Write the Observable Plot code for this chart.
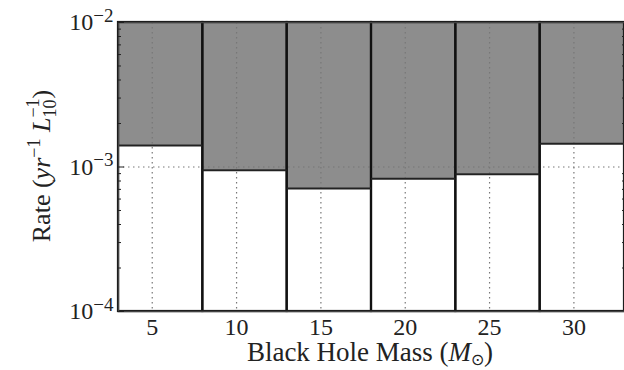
<!DOCTYPE html>
<html><head><meta charset="utf-8">
<script src="https://cdn.jsdelivr.net/npm/d3@7"></script>
<script src="https://cdn.jsdelivr.net/npm/@observablehq/plot@0.6"></script>
<style>body{margin:0;background:#fff;}</style>
</head><body><div id="chart"></div>
<script>
// Bins of black hole mass (M_sun) and rate upper limits
const binStart = [3, 8, 13, 18, 23, 28];
const binEnd = [8, 13, 18, 23, 28, 33];
const rates = [1.41e-3, 9.5e-4, 7.1e-4, 8.3e-4, 8.9e-4, 1.45e-3];
const xTicks = [5, 10, 15, 20, 25, 30];
const yMajor = [1e-4, 1e-3, 1e-2];
const yMinor = [2e-4, 3e-4, 4e-4, 5e-4, 6e-4, 7e-4, 8e-4, 9e-4, 2e-3, 3e-3, 4e-3, 5e-3, 6e-3, 7e-3, 8e-3, 9e-3];
const yBottom = 1e-4, yTop = 1e-2;

const bins = binStart.map((s, i) => ({x1: s, x2: binEnd[i], rate: rates[i]}));

const FONT = "'Liberation Serif', 'Times New Roman', serif";
const grid = {stroke: "#777", strokeOpacity: 1, strokeWidth: 1.2, strokeDasharray: "1.5,3.5"};

const chart = Plot.plot({
  width: 624, height: 370,
  marginLeft: 118, marginRight: 0, marginTop: 22, marginBottom: 59,
  style: {fontFamily: FONT, fontSize: "24px", background: "white", color: "#222"},
  x: {domain: [3, 33]},
  y: {type: "log", domain: [yBottom, yTop]},
  marks: [
    Plot.rect(bins, {x1: "x1", x2: "x2", y1: yBottom, y2: "rate", fill: "white"}),
    Plot.rect(bins, {x1: "x1", x2: "x2", y1: "rate", y2: yTop, fill: "#8d8d8d"}),
    Plot.gridX(xTicks, grid),
    Plot.gridY([1e-3], grid),
    Plot.rect(bins, {x1: "x1", x2: "x2", y1: yBottom, y2: yTop, fill: "none", stroke: "#111", strokeWidth: 2.2}),
    Plot.ruleY(bins, {y: "rate", x1: "x1", x2: "x2", stroke: "#222", strokeWidth: 2}),
    Plot.frame({stroke: "#444", strokeWidth: 1.5}),
    Plot.axisX({ticks: xTicks, tickSize: 0, tickPadding: 6, label: null, fontSize: 24}),
    Plot.axisY({ticks: yMajor, tickSize: 0, tickPadding: 5, label: null, fontSize: 24,
      tickFormat: d => "10|" + Math.round(Math.log10(d))}),
    Plot.axisY({ticks: yMajor, tickSize: 6, dx: 6, tickFormat: () => "", label: null}),
    Plot.axisY({ticks: yMinor, tickSize: 3, dx: 3, tickFormat: () => "", label: null}),
    Plot.axisY({anchor: "right", ticks: yMinor, tickSize: 3, dx: -3, tickFormat: () => "", label: null})
  ]
});

document.getElementById("chart").appendChild(chart);
const svg = d3.select(chart);

// superscript exponents on y tick labels
svg.selectAll('g[aria-label="y-axis tick label"] text').each(function() {
  const t = this.textContent;
  if (!t.includes("|")) return;
  const [base, exp] = t.split("|");
  const el = d3.select(this);
  el.text(base);
  el.append("tspan").attr("dy", "-0.45em").attr("font-size", 19).text(exp.replace("-", "\u2212"));
});

// y label
const yl = svg.append("text")
  .attr("transform", "translate(50,166) rotate(-90)")
  .attr("text-anchor", "middle")
  .attr("font-size", 26).attr("fill", "#222");
yl.append("tspan").text("Rate (");
yl.append("tspan").attr("font-style", "italic").text("yr");
yl.append("tspan").attr("font-size", 18).attr("dy", -10).text("\u22121");
yl.append("tspan").attr("dy", 10).text(" ");
yl.append("tspan").attr("font-style", "italic").text("L");
yl.append("tspan").attr("font-size", 18).attr("dy", 6).text("10");
yl.append("tspan").attr("font-size", 18).attr("dx", -18).attr("dy", -17).text("\u22121");
yl.append("tspan").attr("dy", 11).text(")");

// x label
const xl = svg.append("text")
  .attr("x", 370).attr("y", 361)
  .attr("text-anchor", "middle")
  .attr("font-size", 27).attr("fill", "#222");
xl.append("tspan").text("Black Hole Mass (");
xl.append("tspan").attr("font-style", "italic").text("M");
xl.append("tspan").attr("font-size", 16).attr("dy", 4).text("\u2299");
xl.append("tspan").attr("dy", -4).text(")");

svg.selectAll("text").style("font-family", FONT);
</script>
</body></html>
